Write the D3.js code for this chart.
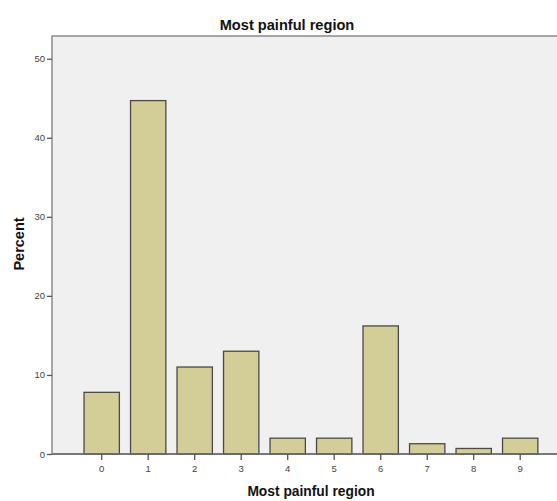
<!DOCTYPE html>
<html><head><meta charset="utf-8">
<script src="https://cdn.jsdelivr.net/npm/d3@7"></script>
<style>body{margin:0;background:#fff}svg{display:block}</style>
</head><body>
<script>
const categories = ["0","1","2","3","4","5","6","7","8","9"];
const percents = [7.8, 44.7, 11.0, 13.0, 2.0, 2.0, 16.2, 1.3, 0.7, 2.0];
const yTicks = [0, 10, 20, 30, 40, 50];

(function () {
const W = 557, H = 501;
const svg = d3.select("body").append("svg").attr("width", W).attr("height", H);
const mLeft = 52, mTop = 36, mBottom = 454, mRight = 557;

svg.append("rect").attr("x", mLeft).attr("y", mTop).attr("width", mRight - mLeft + 2).attr("height", mBottom - mTop)
  .attr("fill", "#f0f0f0").attr("stroke", "#8a8a8a").attr("stroke-width", 1.5);

const x = d3.scaleBand().domain(categories).range([78.45, 543.45]).paddingInner(0.24).paddingOuter(0.12);
const y = d3.scaleLinear().domain([0, 50]).range([mBottom, 58.7]);

svg.selectAll("rect.bar").data(percents).join("rect").attr("class", "bar")
  .attr("x", (d, i) => x(categories[i])).attr("width", x.bandwidth())
  .attr("y", d => y(d)).attr("height", d => y(0) - y(d))
  .attr("fill", "#d3ce97").attr("stroke", "#4a4a4a").attr("stroke-width", 1.3);

svg.append("line").attr("x1", mLeft).attr("x2", mRight).attr("y1", mBottom).attr("y2", mBottom)
  .attr("stroke", "#6a6a6a").attr("stroke-width", 1.5);

const font = "Arial, 'Liberation Sans', sans-serif";
const yAxis = svg.append("g").attr("transform", `translate(${mLeft},0)`)
  .call(d3.axisLeft(y).tickValues(yTicks).tickSize(5).tickPadding(2));
yAxis.select(".domain").remove();
yAxis.selectAll("line").attr("stroke", "#555").attr("stroke-width", 1.3);
yAxis.selectAll("text").attr("fill", "#444").style("font-family", font).style("font-size", "9.5px");

const xAxis = svg.append("g").attr("transform", `translate(0,${mBottom})`)
  .call(d3.axisBottom(x).tickSize(6).tickPadding(5));
xAxis.select(".domain").remove();
xAxis.selectAll("line").attr("stroke", "#555").attr("stroke-width", 1.3);
xAxis.selectAll("text").attr("fill", "#444").style("font-family", font).style("font-size", "9.5px");

svg.append("text").attr("x", 287).attr("y", 29.5).attr("text-anchor", "middle")
  .style("font-family", font).style("font-size", "14.6px").style("font-weight", "bold")
  .attr("fill", "#111").text("Most painful region");
svg.append("text").attr("x", 311).attr("y", 496).attr("text-anchor", "middle")
  .style("font-family", font).style("font-size", "13.8px").style("font-weight", "bold")
  .attr("fill", "#111").text("Most painful region");
svg.append("text").attr("transform", "translate(24,244) rotate(-90)").attr("text-anchor", "middle")
  .style("font-family", font).style("font-size", "14.5px").style("font-weight", "bold")
  .attr("fill", "#111").text("Percent");
})();
</script>
</body></html>
